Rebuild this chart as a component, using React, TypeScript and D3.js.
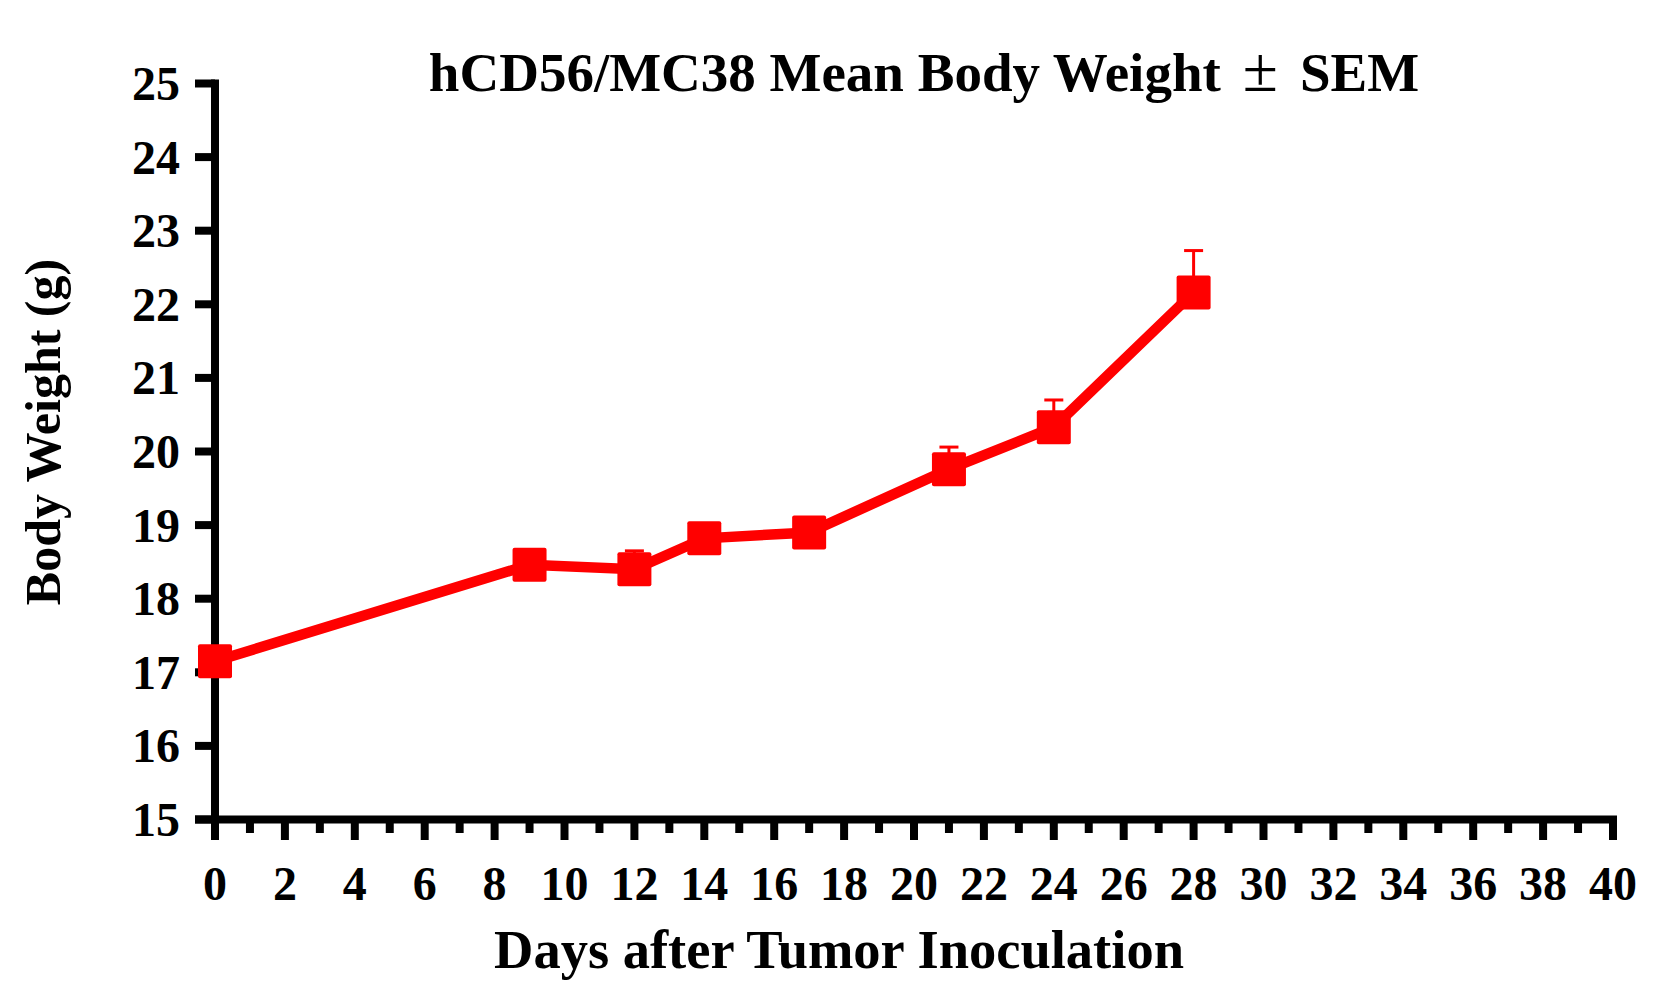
import React from "react";
import * as d3 from "d3";

const titleMain = "hCD56/MC38 Mean Body Weight";
const titlePm = "\u00B1";
const titleEnd = "SEM";
const xTitle = "Days after Tumor Inoculation";
const yTitle = "Body Weight (g)";

const days = [0, 9, 12, 14, 17, 21, 24, 28];
const meanWeight = [17.15, 18.46, 18.40, 18.82, 18.90, 19.76, 20.33, 22.16];
const sem = [0.1, 0.15, 0.25, 0.12, 0.15, 0.3, 0.37, 0.57];

const xMajorTicks = d3.range(0, 41, 2);
const xMinorTicks = d3.range(1, 40, 2);
const yTicks = d3.range(15, 26, 1);

const W = 1678;
const H = 994;

export default function App() {
  const x = d3.scaleLinear().domain([0, 40]).range([215, 1613]);
  const y = d3.scaleLinear().domain([15, 25]).range([819.5, 83.5]);
  const line = d3
    .line<number>()
    .x((_, i) => x(days[i]))
    .y((d) => y(d));

  const font = "'Liberation Serif', 'Times New Roman', serif";
  const red = "#ff0000";
  const axisW = 8;
  const markerSize = 34;
  const capW = 19;

  return (
    <svg
      width={W}
      height={H}
      style={{ position: "absolute", left: 0, top: 0, background: "#fff" }}
      fontFamily={font}
      fontWeight="bold"
    >
      <rect x={0} y={0} width={W} height={H} fill="#fff" />
      {/* title */}
      <text x={924} y={91} fontSize={55} textAnchor="middle" fill="#000">
        <tspan>{titleMain}</tspan>
        <tspan dx={22} fontSize={64} fontWeight="normal">
          {titlePm}
        </tspan>
        <tspan dx={22}>{titleEnd}</tspan>
      </text>

      {/* y axis */}
      <line
        x1={x(0)}
        x2={x(0)}
        y1={y(25) - axisW / 2}
        y2={y(15) + 20.5}
        stroke="#000"
        strokeWidth={axisW}
      />
      {yTicks.map((t) => (
        <g key={"y" + t}>
          <line
            x1={x(0) - 20}
            x2={x(0)}
            y1={y(t)}
            y2={y(t)}
            stroke="#000"
            strokeWidth={axisW}
          />
          <text
            x={180}
            y={y(t) + 16.5}
            fontSize={48}
            textAnchor="end"
            fill="#000"
          >
            {t}
          </text>
        </g>
      ))}

      {/* x axis */}
      <line
        x1={x(0) - 20}
        x2={x(40) + axisW / 2}
        y1={y(15)}
        y2={y(15)}
        stroke="#000"
        strokeWidth={axisW}
      />
      {xMajorTicks.map((t) => (
        <g key={"x" + t}>
          <line
            x1={x(t)}
            x2={x(t)}
            y1={y(15)}
            y2={840}
            stroke="#000"
            strokeWidth={axisW}
          />
          <text x={x(t)} y={900} fontSize={48} textAnchor="middle" fill="#000">
            {t}
          </text>
        </g>
      ))}
      {xMinorTicks.map((t) => (
        <line
          key={"m" + t}
          x1={x(t)}
          x2={x(t)}
          y1={y(15)}
          y2={833}
          stroke="#000"
          strokeWidth={axisW}
        />
      ))}

      {/* axis titles */}
      <text x={839} y={968} fontSize={54.5} textAnchor="middle" fill="#000">
        {xTitle}
      </text>
      <text
        transform={`translate(60, 432) rotate(-90)`}
        fontSize={50}
        textAnchor="middle"
        fill="#000"
      >
        {yTitle}
      </text>

      {/* error bars */}
      {days.map((d, i) => (
        <g key={"e" + d} stroke={red} strokeWidth={3}>
          <line
            x1={x(d)}
            x2={x(d)}
            y1={y(meanWeight[i])}
            y2={y(meanWeight[i] + sem[i])}
          />
          <line
            x1={x(d) - capW / 2}
            x2={x(d) + capW / 2}
            y1={y(meanWeight[i] + sem[i])}
            y2={y(meanWeight[i] + sem[i])}
          />
        </g>
      ))}

      {/* data line */}
      <path
        d={line(meanWeight) || ""}
        fill="none"
        stroke={red}
        strokeWidth={10.5}
        strokeLinejoin="miter"
      />

      {/* markers */}
      {days.map((d, i) => (
        <rect
          key={"p" + d}
          x={x(d) - markerSize / 2}
          y={y(meanWeight[i]) - markerSize / 2}
          width={markerSize}
          height={markerSize}
          rx={2}
          fill={red}
        />
      ))}
    </svg>
  );
}
